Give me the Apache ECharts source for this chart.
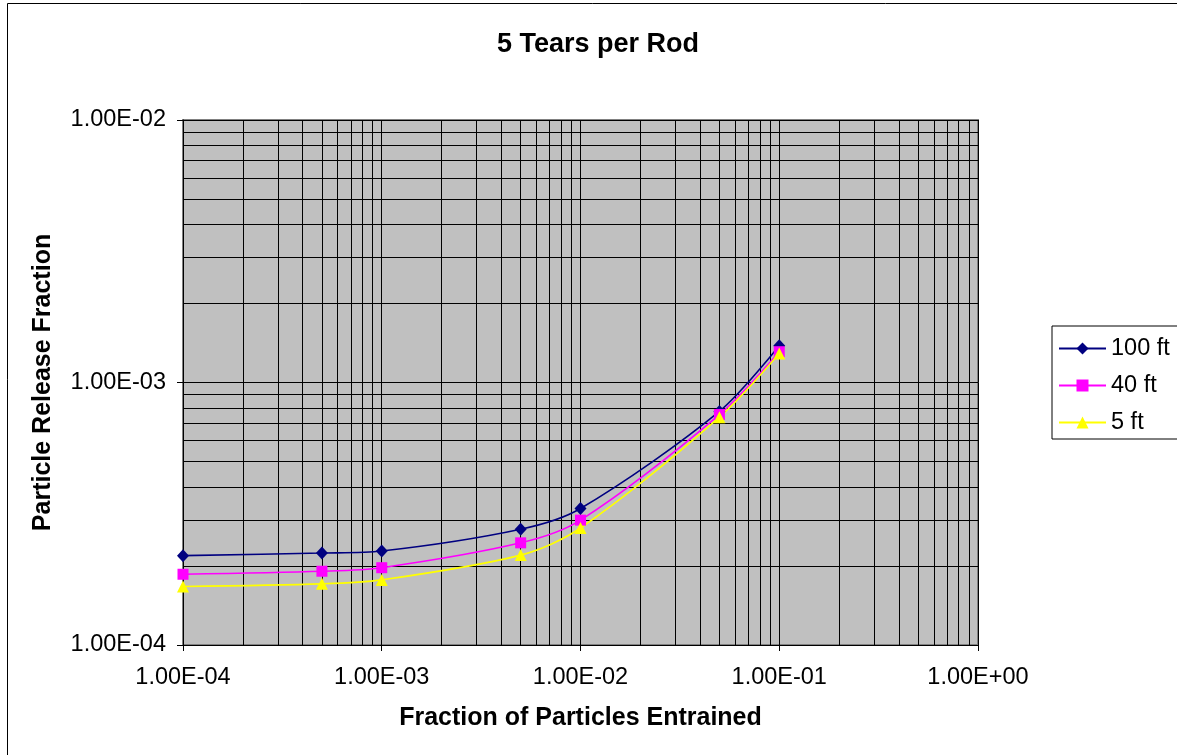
<!DOCTYPE html>
<html>
<head>
<meta charset="utf-8">
<script src="https://cdn.jsdelivr.net/npm/echarts@6/dist/echarts.min.js"></script>
<style>
html,body{margin:0;padding:0;background:#fff;}
#chart{width:1177px;height:755px;}
</style>
</head>
<body>
<div id="chart"></div>
<script>
const titleText = '5 Tears per Rod';
const xName = 'Fraction of Particles Entrained';
const yName = 'Particle Release Fraction';
const fractions = [1e-4, 5e-4, 1e-3, 5e-3, 1e-2, 5e-2, 1e-1];
const seriesNames = ['100 ft', '40 ft', '5 ft'];
const release100 = [2.19e-4, 2.24e-4, 2.28e-4, 2.76e-4, 3.31e-4, 7.76e-4, 1.38e-3];
const release40  = [1.86e-4, 1.91e-4, 1.97e-4, 2.45e-4, 2.99e-4, 7.55e-4, 1.31e-3];
const release5   = [1.67e-4, 1.71e-4, 1.77e-4, 2.20e-4, 2.79e-4, 7.38e-4, 1.29e-3];

function fmt(v){
  const s = Number(v).toExponential(2);
  const parts = s.split('e');
  const n = parseInt(parts[1], 10);
  return parts[0] + 'E' + (n < 0 ? '-' : '+') + String(Math.abs(n)).padStart(2, '0');
}
function pairs(xs, ys){ return xs.map((x, i) => [x, ys[i]]); }

const FONT = 'Liberation Sans, Arial, sans-serif';
const chart = echarts.init(document.getElementById('chart'), null, {renderer: 'canvas'});
const lineCommon = {type: 'line', smooth: 0.3, showSymbol: true, z: 5};
chart.setOption({
  backgroundColor: '#fff',
  animation: false,
  title: {
    text: titleText, left: 492, top: 26,
    textStyle: {fontFamily: FONT, fontSize: 27, fontWeight: 'bold', color: '#000'}
  },
  graphic: [{
    type: 'rect', left: 5, top: 1, z: -10,
    shape: {width: 1200, height: 800},
    style: {fill: 'none', stroke: '#000', lineWidth: 1}
  }],
  grid: {left: 183, right: 199, top: 120, bottom: 110, show: true,
         backgroundColor: '#C0C0C0', borderColor: '#808080', borderWidth: 2},
  legend: {
    orient: 'vertical', left: 1052, top: 326,
    data: seriesNames,
    itemWidth: 47, itemHeight: 15, itemGap: 12,
    padding: [10, 30, 4, 6],
    backgroundColor: '#fff', borderColor: '#000', borderWidth: 1,
    textStyle: {fontFamily: FONT, fontSize: 23.5, color: '#000', lineHeight: 25}
  },
  xAxis: {
    type: 'log', logBase: 10, min: 1e-4, max: 1,
    name: xName, nameLocation: 'middle', nameGap: 61,
    nameTextStyle: {fontFamily: FONT, fontSize: 25, fontWeight: 'bold', color: '#000'},
    axisLine: {show: true, lineStyle: {color: '#000', width: 1}},
    axisTick: {show: true, length: 6, inside: false, lineStyle: {color: '#000'}},
    axisLabel: {formatter: fmt, fontFamily: FONT, fontSize: 23.5, color: '#000', margin: 21},
    splitLine: {show: true, lineStyle: {color: '#000', width: 1}},
    minorTick: {show: false, splitNumber: 9},
    minorSplitLine: {show: true, lineStyle: {color: '#000', width: 1}}
  },
  yAxis: {
    type: 'log', logBase: 10, min: 1e-4, max: 1e-2,
    name: yName, nameLocation: 'middle', nameGap: 127, nameRotate: 90,
    nameTextStyle: {fontFamily: FONT, fontSize: 25, fontWeight: 'bold', color: '#000'},
    axisLine: {show: true, lineStyle: {color: '#000', width: 1}},
    axisTick: {show: true, length: 6, inside: false, lineStyle: {color: '#000'}},
    axisLabel: {formatter: fmt, fontFamily: FONT, fontSize: 23.5, color: '#000', margin: 17},
    splitLine: {show: true, lineStyle: {color: '#000', width: 1}},
    minorTick: {show: false, splitNumber: 9},
    minorSplitLine: {show: true, lineStyle: {color: '#000', width: 1}}
  },
  series: [
    Object.assign({}, lineCommon, {
      name: seriesNames[0], data: pairs(fractions, release100),
      symbol: 'diamond', symbolSize: [12, 13],
      itemStyle: {color: '#000080'}, lineStyle: {color: '#000080', width: 1.6}
    }),
    Object.assign({}, lineCommon, {
      name: seriesNames[1], data: pairs(fractions, release40),
      symbol: 'rect', symbolSize: 11,
      itemStyle: {color: '#FF00FF'}, lineStyle: {color: '#FF00FF', width: 1.6}
    }),
    Object.assign({}, lineCommon, {
      name: seriesNames[2], data: pairs(fractions, release5),
      symbol: 'triangle', symbolSize: 12,
      itemStyle: {color: '#FFFF00'}, lineStyle: {color: '#FFFF00', width: 1.6}
    })
  ]
});
</script>
</body>
</html>
